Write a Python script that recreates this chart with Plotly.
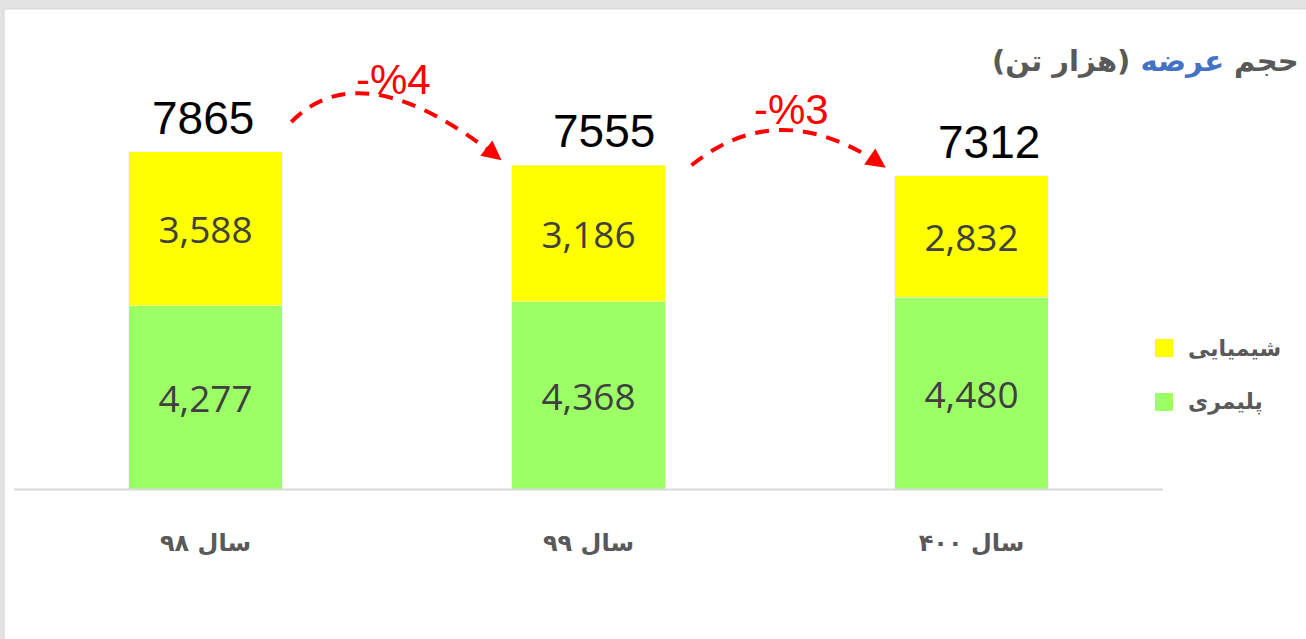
import math
import plotly.graph_objects as go

# ---- data ----
categories = ["سال ۹۸", "سال ۹۹", "سال ۴۰۰"]
polymeric = [4277, 4368, 4480]      # پلیمری
chemical = [3588, 3186, 2832]       # شیمیایی
totals = [7865, 7555, 7312]         # totals as labelled
series_names = ["پلیمری", "شیمیایی"]

# ---- layout constants ----
W, H = 1306, 639
ML, MR, MT, MB = 14, 143, 30, 150
PW, PH = W - ML - MR, H - MT - MB
YMAX = 10712
XPX = PW / 3.0
TOTAL_XSHIFT = [-3, 15, 17]

GREEN = "#9CFF66"
YELLOW = "#FFFF00"
GRAY = "#595959"
AR = "Tahoma, 'DejaVu Sans', sans-serif"

def d2px(x, y):
    return ML + (x + 0.5) * XPX, MT + (YMAX - y) * PH / YMAX

def px2paper(px, py):
    return (px - ML) / PW, (MT + PH - py) / PH

xs = list(range(len(categories)))

fig = go.Figure()
fig.add_trace(go.Bar(x=xs, y=polymeric, name=series_names[0], marker_color=GREEN,
                     texttemplate="%{y:,}", textposition="inside", insidetextanchor="middle",
                     textfont=dict(family="Open Sans", size=37, color="#404040"),
                     showlegend=False))
fig.add_trace(go.Bar(x=xs, y=chemical, name=series_names[1], marker_color=YELLOW,
                     texttemplate="%{y:,}", textposition="inside", insidetextanchor="middle",
                     textfont=dict(family="Open Sans", size=37, color="#404040"),
                     showlegend=False))

shapes = []
annotations = []

# background panel (white card over grey page)
x0p, y1p = px2paper(4, 9)
x1p, y0p = px2paper(W + 10, H + 10)
shapes.append(dict(type="rect", xref="paper", yref="paper", x0=x0p, x1=x1p, y0=y0p, y1=y1p,
                   fillcolor="white", line=dict(color="#d4d4d4", width=1), layer="below"))

# category axis line
lx0, ly = px2paper(14, 489.5)
lx1, _ = px2paper(1163, 489.5)
shapes.append(dict(type="line", xref="paper", yref="paper", x0=lx0, x1=lx1, y0=ly, y1=ly,
                   line=dict(color="#d9d9d9", width=2)))

# totals above bars
for i, t in enumerate(totals):
    annotations.append(dict(x=i, y=t, xref="x", yref="y", text=str(t), showarrow=False,
                            yanchor="bottom", yshift=6, xshift=TOTAL_XSHIFT[i],
                            font=dict(family="Liberation Sans", size=46, color="black")))

# change arrows: (from, to, start dx, start dy, end dx, end dy, ctrl dx, ctrl dy above max, label dx, label dy)
arrows = [
    (0, 1, 0.224, 700, -0.227, 117, 0.41, 2400, 0.49, 1700),
    (1, 2, 0.269, 0, -0.224, 187, 0.50, 1675, 0.53, 1300),
]
for a, b, sdx, sdy, edx, edy, cdx, cdy, ldx, ldy in arrows:
    sx, sy = a + sdx, totals[a] + sdy
    ex, ey = b + edx, totals[b] + edy
    cx, cy = a + cdx, max(totals[a], totals[b]) + cdy
    p_e = d2px(ex, ey)
    p_c = d2px(cx, cy)
    dxp, dyp = p_e[0] - p_c[0], p_e[1] - p_c[1]
    n = math.hypot(dxp, dyp)
    ux, uy = dxp / n, dyp / n
    path = f"M {sx},{sy} Q {cx},{cy} {ex},{ey}"
    shapes.append(dict(type="path", xref="x", yref="y", path=path,
                       line=dict(color="#FF0000", width=4, dash="14px,10px")))
    annotations.append(dict(x=ex, y=ey, xref="x", yref="y", text="", showarrow=True,
                            ax=-ux * 14, ay=-uy * 14, arrowhead=2, arrowsize=1.3,
                            arrowwidth=3, arrowcolor="#FF0000", standoff=0))
    pct = round(abs(totals[b] - totals[a]) / totals[a] * 100)
    annotations.append(dict(x=a + ldx, y=max(totals[a], totals[b]) + ldy, xref="x", yref="y",
                            text=f"-%{pct}", showarrow=False,
                            font=dict(family="Liberation Sans", size=42, color="#FF0000")))

# title
tx, ty = px2paper(1301, 61)
annotations.append(dict(x=tx, y=ty, xref="paper", yref="paper", xanchor="right", yanchor="middle",
                        text="حجم <span style='color:#4472C4'>عرضه</span> (هزار تن)",
                        showarrow=False, font=dict(family=AR, size=29, color=GRAY, weight="bold")))

# manual legend (top item: chemical, bottom: polymeric)
legend_items = [(series_names[1], YELLOW, 348), (series_names[0], GREEN, 402)]
for name, col, cyp in legend_items:
    sx0, sy1 = px2paper(1155, cyp - 9)
    sx1, sy0 = px2paper(1173, cyp + 9)
    shapes.append(dict(type="rect", xref="paper", yref="paper", x0=sx0, x1=sx1, y0=sy0, y1=sy1,
                       fillcolor=col, line=dict(width=0)))
    ax_, ay_ = px2paper(1186, cyp)
    annotations.append(dict(x=ax_, y=ay_, xref="paper", yref="paper", xanchor="left", yanchor="middle",
                            text=name, showarrow=False,
                            font=dict(family=AR, size=22, color=GRAY, weight="bold")))

fig.update_layout(
    width=W, height=H,
    margin=dict(l=ML, r=MR, t=MT, b=MB, pad=0),
    barmode="stack", bargap=0.6,
    paper_bgcolor="#e3e3e3", plot_bgcolor="rgba(0,0,0,0)",
    shapes=shapes, annotations=annotations,
    showlegend=False,
    xaxis=dict(range=[-0.5, 2.5], tickvals=xs, ticktext=categories, showgrid=False, zeroline=False,
               showline=False, ticks="", ticklabelstandoff=37,
               tickfont=dict(family=AR, size=24, color=GRAY, weight="bold"), fixedrange=True),
    yaxis=dict(range=[0, YMAX], visible=False, showgrid=False, zeroline=False, fixedrange=True),
)

fig.write_html("out.html", config={"displayModeBar": False},
               post_script="document.body.style.margin='0';document.body.style.overflow='hidden';")
